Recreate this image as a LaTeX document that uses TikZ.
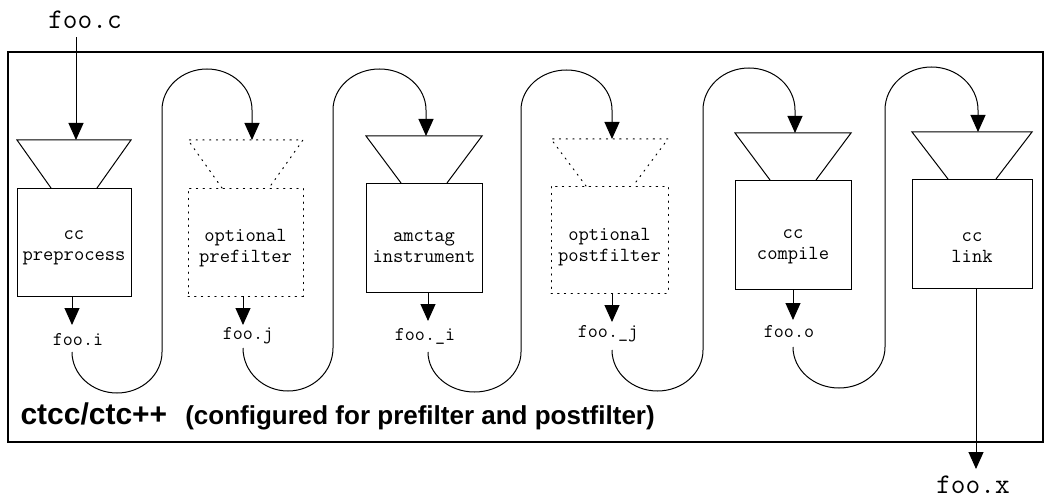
\documentclass[tikz,border=0pt]{standalone}
\usepackage{fontspec}
\setmainfont{Liberation Serif}
\newfontfamily\sansb{Liberation Sans}
\usetikzlibrary{arrows.meta}
\begin{document}
\begin{tikzpicture}[x=1pt,y=1pt,line width=1pt,
  flow/.style={-{Triangle[length=17pt,width=15pt]}},
  stagebox/.style={draw,rectangle,inner sep=0pt,outer sep=0pt},
  dotline/.style={dash pattern=on 1.3pt off 5.4pt,line cap=round},
  optbox/.style={stagebox,dotline},
  boxtext/.style={font=\ttfamily\fontsize{20}{21}\selectfont,align=center,inner sep=0pt},
  filetext/.style={font=\ttfamily\fontsize{19.5}{21}\selectfont,inner sep=0pt},
  bigfile/.style={font=\ttfamily\fontsize{28.5}{30}\selectfont,inner sep=0pt}]
\useasboundingbox (0,0) rectangle (1044,499);
% frame
\node[draw,rectangle,minimum width=1035,minimum height=390,inner sep=0pt,line width=1.1pt] (frame) at (525.5,252) {};
\node[anchor=base west,inner sep=0pt,font=\sansb\bfseries] (title) at (20,75)
  {{\fontsize{30}{36}\selectfont ctcc/ctc++}\hspace{18pt}{\fontsize{26}{30}\selectfont (configured for prefilter and postfilter)}};
% entry points
\coordinate (in1) at (76,359);
\coordinate (in2) at (252,359);
\coordinate (in3) at (426,363);
\coordinate (in4) at (612,360);
\coordinate (in5) at (795,366);
\coordinate (in6) at (978,367);
% stage 1
\node[stagebox,minimum width=114,minimum height=108] (b1) at (74,257) {};
\draw (51,311) -- (17,359) -- (131,359) -- (97,311);
\node[boxtext] (t1) at (74,251) {cc\\preprocess};
% stage 2
\node[optbox,minimum width=115,minimum height=108] (b2) at (245.5,257) {};
\draw[dotline] (222,311) -- (188,359) -- (303,359) -- (269,311);
\node[boxtext] (t2) at (245.5,251) {optional\\prefilter};
% stage 3
\node[stagebox,minimum width=116,minimum height=109] (b3) at (424,261.5) {};
\draw (401,316) -- (366,363) -- (482,363) -- (447,316);
\node[boxtext] (t3) at (424,252) {amctag\\instrument};
% stage 4
\node[optbox,minimum width=117,minimum height=107] (b4) at (609.5,259.5) {};
\draw[dotline] (586,313) -- (551,360) -- (668,360) -- (633,313);
\node[boxtext] (t4) at (609.5,252) {optional\\postfilter};
% stage 5
\node[stagebox,minimum width=116,minimum height=109] (b5) at (793,264.5) {};
\draw (770,319) -- (735,366) -- (851,366) -- (816,319);
\node[boxtext] (t5) at (793,252.5) {cc\\compile};
% stage 6
\node[stagebox,minimum width=120,minimum height=109] (b6) at (972,265.5) {};
\draw (948,320) -- (912,367) -- (1032,367) -- (996,320);
\node[boxtext] (t6) at (972,251.5) {cc\\link};
% outputs
\coordinate (o1) at (72,174);
\coordinate (o2) at (243,174);
\coordinate (o3) at (428,178);
\coordinate (o4) at (612,177);
\coordinate (o5) at (793,179);
\coordinate (o6) at (976,30);
\node[filetext] (f1) at (78,159) {foo.i};
\node[filetext] (f2) at (248,163) {foo.j};
\node[filetext] (f3) at (425,163) {foo.\_i};
\node[filetext] (f4) at (608,165) {foo.\_j};
\node[filetext] (f5) at (789,167) {foo.o};
\node[bigfile] (fx) at (973,14) {foo.x};
\node[bigfile] (fc) at (85,479) {foo.c};
\draw[flow] (b1.south -| o1) -- (o1);
\draw[flow] (b2.south -| o2) -- (o2);
\draw[flow] (b3.south -| o3) -- (o3);
\draw[flow] (b4.south -| o4) -- (o4);
\draw[flow] (b5.south -| o5) -- (o5);
\draw[flow] (b6.south -| o6) -- (o6);
\draw[flow,shorten <=8pt] (fc.south -| in1) -- (in1);
% loops
\coordinate (l1) at (72,147);
\coordinate (l2) at (243,151);
\coordinate (l3) at (428,147);
\coordinate (l4) at (612,149);
\coordinate (l5) at (793,152);
\draw[flow] (l1) arc[start angle=180,end angle=360,x radius=45,y radius=41]
  -- (162,389) arc[start angle=180,end angle=0,x radius=45,y radius=41] -- (in2);
\draw[flow] (l2) arc[start angle=180,end angle=360,x radius=45,y radius=43]
  -- (333,389) arc[start angle=180,end angle=0,x radius=46.5,y radius=41] -- (in3);
\draw[flow] (l3) arc[start angle=180,end angle=360,x radius=46.5,y radius=40]
  -- (521,389) arc[start angle=180,end angle=0,x radius=45.5,y radius=40] -- (in4);
\draw[flow] (l4) arc[start angle=180,end angle=360,x radius=45.5,y radius=41]
  -- (703,389) arc[start angle=180,end angle=0,x radius=46,y radius=42] -- (in5);
\draw[flow] (l5) arc[start angle=180,end angle=360,x radius=46,y radius=41]
  -- (885,389) arc[start angle=180,end angle=0,x radius=46.5,y radius=43] -- (in6);
\end{tikzpicture}
\end{document}
